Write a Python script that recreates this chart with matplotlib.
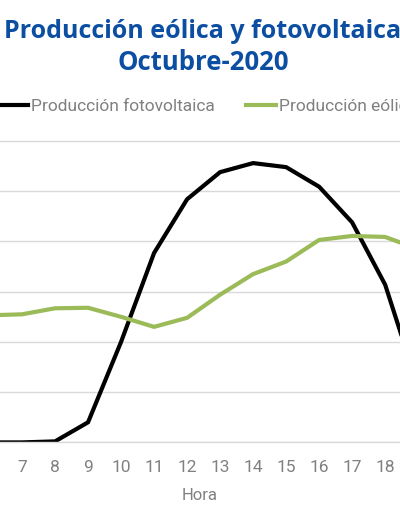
import matplotlib
matplotlib.use("Agg")
import matplotlib.pyplot as plt

horas = [5, 6, 7, 8, 9, 10, 11, 12, 13, 14, 15, 16, 17, 18, 19, 20]
fotovoltaica = [0.0, 0.0, 0.0, 0.02, 0.4, 2.0, 3.77, 4.84, 5.38, 5.56, 5.48, 5.09, 4.38, 3.14, 1.1, 0.2]
eolica = [2.5, 2.53, 2.55, 2.67, 2.68, 2.50, 2.30, 2.48, 2.94, 3.35, 3.60, 4.03, 4.11, 4.09, 3.85, 3.7]
xticks = list(range(6, 20))

W, H = 400, 516
fig = plt.figure(figsize=(W / 100, H / 100), dpi=100)
y0, y6 = 442.4, 141.0
ytop = 6.15
bottom = (H - y0) / H
height = (y0 - y6) * ytop / 6 / H
ax = fig.add_axes([0, bottom, 1, height])

green = "#9BBB59"
gray = "#808080"
ax.plot(horas, fotovoltaica, color="black", lw=3.0, label="Producción fotovoltaica", solid_joinstyle="miter")
ax.plot(horas, eolica, color=green, lw=3.0, label="Producción eólica", solid_joinstyle="miter")

ax.set_yticks(range(0, 7))
ax.set_yticklabels([])
ax.tick_params(axis="y", length=0)
ax.set_xticks(xticks)
ax.set_xticklabels([str(h) for h in xticks])
ax.set_xlim(6.333, 18.45)
ax.set_ylim(0, ytop)
ax.tick_params(axis="x", length=0, colors=gray, labelsize=12.5, pad=13)
for lbl in ax.get_xticklabels():
    lbl.set_fontfamily("Roboto")
    lbl.set_fontweight("normal")
ax.grid(axis="y", color="#D9D9D9", lw=1.0)
ax.set_axisbelow(True)
for s in ["top", "right", "left"]:
    ax.spines[s].set_visible(False)
ax.spines["bottom"].set_color("#D9D9D9")
ax.spines["bottom"].set_linewidth(1.0)
ax.set_xlabel("Hora", color=gray, fontsize=12, family="Roboto", fontweight="normal", labelpad=9)

fig.text(0.507, 1 - 31 / H, "Producción eólica y fotovoltaica", ha="center", va="center",
         fontsize=18, fontweight="bold", color="#0B4EA2", family="Open Sans")
fig.text(0.507, 1 - 63 / H, "Octubre-2020", ha="center", va="center",
         fontsize=18.5, fontweight="bold", color="#0B4EA2", family="Open Sans")

leg = fig.legend(loc="center left", bbox_to_anchor=(-0.005, 1 - 106 / H), ncol=2, frameon=False,
                 handlelength=1.73, handletextpad=0.17, columnspacing=1.8,
                 borderaxespad=0, borderpad=0,
                 prop={"family": "Roboto", "weight": "normal", "size": 12.5})
for t in leg.get_texts():
    t.set_color(gray)

fig.savefig("out.png", dpi=100)
